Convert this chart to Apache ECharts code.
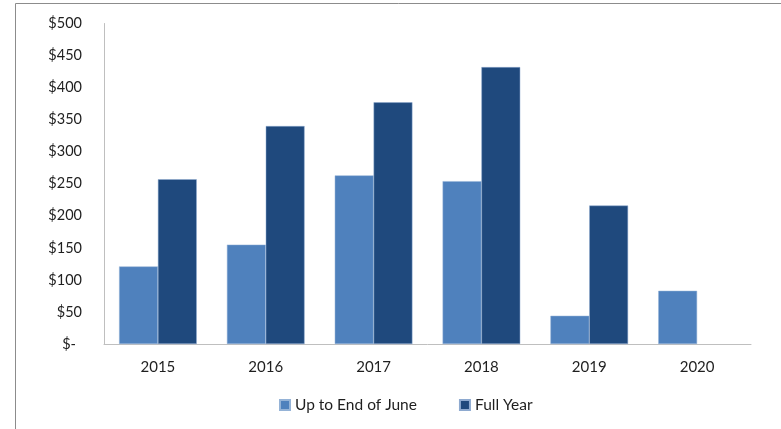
<!DOCTYPE html>
<html>
<head>
<meta charset="utf-8">
<script src="https://cdn.jsdelivr.net/npm/echarts@6/dist/echarts.min.js"></script>
<style>
  html, body { margin: 0; padding: 0; background: #ffffff; }
  #chart { width: 781px; height: 429px; }
</style>
</head>
<body>
<div id="chart"></div>
<script>
// Yearly totals, in dollars
var years = ['2015', '2016', '2017', '2018', '2019', '2020'];
var upToJune = [121, 155, 263, 254, 44, 83];
var fullYear = [257, 340, 377, 432, 216, null];
var seriesNames = ['Up to End of June', 'Full Year'];

var fontFamily = 'Lato, "Open Sans", "Liberation Sans", sans-serif';
var textColor = '#1f1f1f';

var chart = echarts.init(document.getElementById('chart'), null, { renderer: 'canvas' });

chart.setOption({
  backgroundColor: '#ffffff',
  animation: false,
  textStyle: { fontFamily: fontFamily, color: textColor },
  graphic: [
    {
      type: 'polyline',
      silent: true,
      shape: { points: [[15.5, 429], [15.5, 3.5], [781, 3.5]] },
      style: { stroke: '#8c8c8c', lineWidth: 1, fill: null }
    }
  ],
  grid: { left: 104, right: 30, top: 23.5, bottom: 85, containLabel: false },
  legend: {
    left: 279,
    top: 397,
    padding: 0,
    itemWidth: 10,
    itemHeight: 10,
    itemGap: 42,
    icon: 'rect',
    textStyle: { fontFamily: fontFamily, fontSize: 15.5, color: textColor },
    data: seriesNames
  },
  xAxis: {
    type: 'category',
    data: years,
    axisLine: { lineStyle: { color: '#bfbfbf', width: 1 } },
    axisTick: { show: false },
    axisLabel: { margin: 16, fontSize: 15, color: textColor, fontFamily: fontFamily }
  },
  yAxis: {
    type: 'value',
    min: 0,
    max: 500,
    interval: 50,
    splitLine: { show: false },
    axisLine: { show: true, lineStyle: { color: '#bfbfbf', width: 1 } },
    axisTick: { show: false },
    axisLabel: {
      margin: 22,
      fontSize: 14.5,
      color: textColor,
      fontFamily: fontFamily,
      formatter: function (v) { return v === 0 ? '{z|$-}' : '$' + v; },
      rich: { z: { fontSize: 14.5, color: textColor, fontFamily: fontFamily, padding: [0, 6, 0, 0] } }
    }
  },
  series: [
    {
      name: seriesNames[0],
      type: 'bar',
      data: upToJune,
      barGap: '0%',
      barCategoryGap: '28%',
      itemStyle: { color: '#4f81bd', borderColor: '#95b3d7', borderWidth: 0.5 }
    },
    {
      name: seriesNames[1],
      type: 'bar',
      data: fullYear,
      barGap: '0%',
      barCategoryGap: '28%',
      itemStyle: { color: '#1f497d', borderColor: '#8eaad0', borderWidth: 0.5 }
    }
  ]
});
</script>
</body>
</html>
